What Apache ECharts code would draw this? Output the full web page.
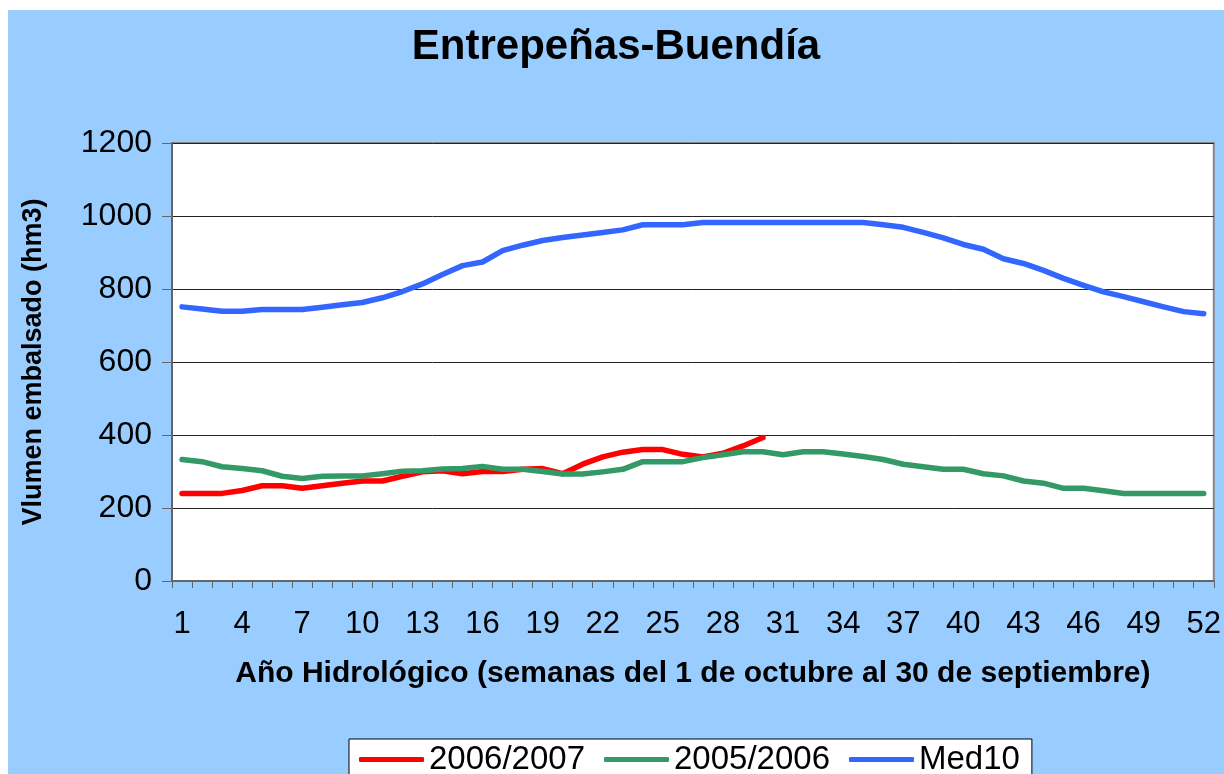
<!DOCTYPE html>
<html>
<head>
<meta charset="utf-8">
<script src="https://cdn.jsdelivr.net/npm/echarts@6/dist/echarts.min.js"></script>
<style>
  html, body { margin: 0; padding: 0; background: #fff; }
  #chart { position: absolute; left: 8px; top: 10px; width: 1216px; height: 764px; }
</style>
</head>
<body>
<div id="chart"></div>
<script>
// semanas del año hidrológico
var semanas = [];
for (var i = 1; i <= 52; i++) semanas.push(String(i));

var serie2006 = [240, 240, 240, 248, 261, 261, 254, 261, 268, 274, 274, 287, 299, 302, 294, 300, 300, 306, 308, 294,
    320, 340, 353, 360, 360, 347, 340, 350, 370, 393];
var serie2005 = [333, 327, 313, 308, 302, 287, 281, 287, 288, 288, 294, 301, 302, 307, 308, 314, 306, 306, 300, 293,
    293, 299, 306, 327, 327, 327, 338, 346, 354, 354, 346, 354, 354, 348, 341, 333, 320, 313, 306, 306,
    294, 288, 274, 268, 254, 254, 247, 240, 240, 240, 240, 240];
var med10 = [751, 745, 739, 739, 744, 744, 744, 750, 757, 763, 776, 793, 814, 840, 864, 874, 905, 920, 933, 941,
    948, 955, 962, 976, 976, 976, 982, 982, 982, 982, 982, 982, 982, 982, 982, 976, 969, 955, 940, 922,
    909, 883, 870, 851, 829, 810, 792, 779, 765, 751, 738, 732];

(function () {
    var myChart = echarts.init(document.getElementById("chart"));
    var fuente = "Liberation Sans";
    var option = {
        backgroundColor: "#99CCFF",
        animation: false,
        title: {
            text: "Entrepeñas-Buendía",
            left: "center",
            top: 11,
            textStyle: { fontFamily: fuente, fontSize: 42, fontWeight: "bold", color: "#000" }
        },
        color: ["#FF0000", "#339966", "#3366FF"],
        legend: {
            left: 341,
            top: 729,
            padding: [4, 12, 8, 10],
            backgroundColor: "#fff",
            borderColor: "#000",
            borderWidth: 1,
            borderRadius: 0,
            itemWidth: 65,
            itemHeight: 5,
            itemGap: 19,
            icon: "roundRect",
            textStyle: { fontFamily: fuente, fontSize: 33, color: "#000" }
        },
        grid: {
            left: 164,
            right: 10,
            top: 133,
            bottom: 193,
            show: true,
            backgroundColor: "#fff",
            borderColor: "#888",
            borderWidth: 2
        },
        xAxis: {
            type: "category",
            data: semanas,
            boundaryGap: true,
            name: "Año Hidrológico (semanas del 1 de octubre al 30 de septiembre)",
            nameLocation: "middle",
            nameGap: 78,
            nameTextStyle: { fontFamily: fuente, fontSize: 30, fontWeight: "bold", color: "#000", verticalAlign: "top" },
            axisLine: { lineStyle: { color: "#666", width: 2 } },
            axisTick: { show: true, interval: 0, length: 7, lineStyle: { color: "#666" } },
            axisLabel: { interval: 2, margin: 28, fontFamily: fuente, fontSize: 31, color: "#000" }
        },
        yAxis: {
            type: "value",
            min: 0,
            max: 1200,
            interval: 200,
            name: "Vlumen embalsado (hm3)",
            nameLocation: "middle",
            nameGap: 125,
            nameTextStyle: { fontFamily: fuente, fontSize: 27, fontWeight: "bold", color: "#000" },
            axisLine: { show: true, lineStyle: { color: "#666", width: 2 } },
            axisTick: { show: true, length: 10, lineStyle: { color: "#666" } },
            axisLabel: {
                margin: 20, fontFamily: fuente, fontSize: 32, color: "#000",
                formatter: function (v) { return String(v); }
            },
            splitLine: { lineStyle: { color: "#222", width: 1 } }
        },
        series: [
            {
                name: "2006/2007",
                type: "line",
                data: serie2006,
                symbol: "none",
                lineStyle: { width: 5.5, cap: "round", join: "round" }
            },
            {
                name: "2005/2006",
                type: "line",
                data: serie2005,
                symbol: "none",
                lineStyle: { width: 5.5, cap: "round", join: "round" }
            },
            {
                name: "Med10",
                type: "line",
                data: med10,
                symbol: "none",
                lineStyle: { width: 5.5, cap: "round", join: "round" }
            }
        ]
    };
    myChart.setOption(option);
    window.addEventListener("resize", function () {
        myChart.resize();
    });
})();
</script>
</body>
</html>
